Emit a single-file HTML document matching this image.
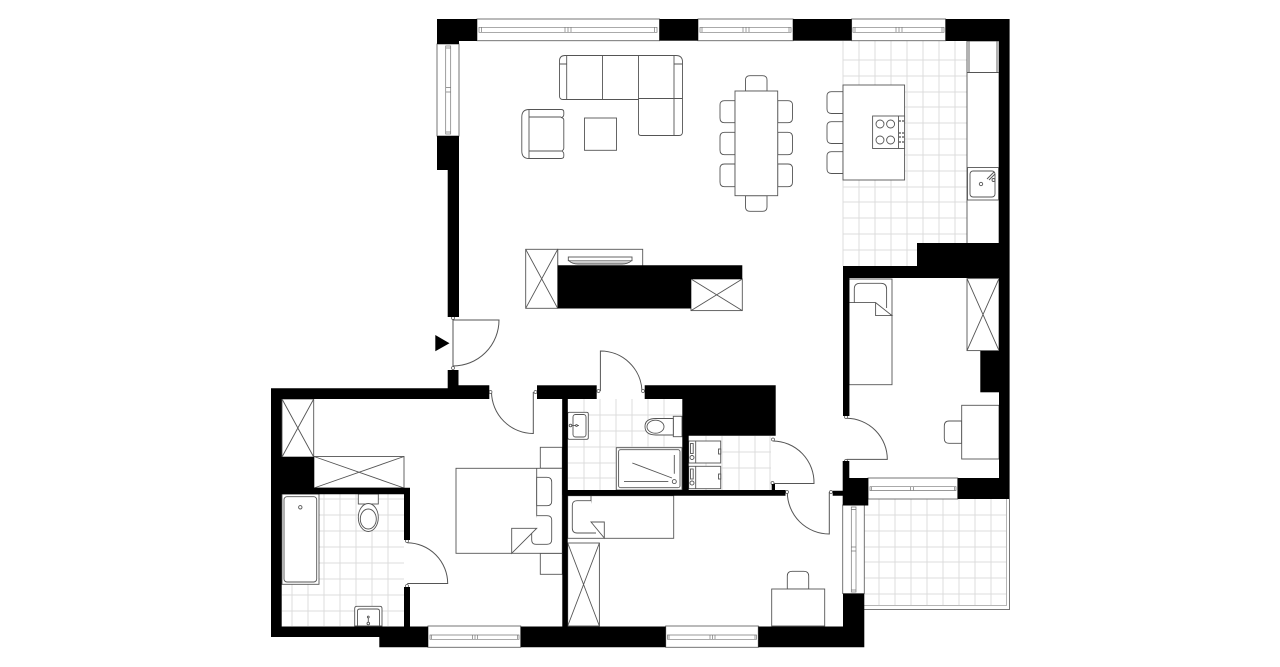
<!DOCTYPE html>
<html><head><meta charset="utf-8"><title>Floor plan</title>
<style>html,body{margin:0;padding:0;background:#fff;width:1280px;height:667px;overflow:hidden}svg{display:block;filter:blur(0.3px)}</style></head>
<body>
<svg xmlns="http://www.w3.org/2000/svg" width="1280" height="667" viewBox="0 0 1280 667">
<rect width="1280" height="667" fill="#fff"/>
<!-- tiles -->
<g fill="none" stroke="#dcdcdc" stroke-width="1">
<path d="M843 41V266M859 41V266M875 41V266M891 41V266M907 41V266M923 41V243M939 41V243M955 41V243"/>
<path d="M843 60H967M843 76H967M843 92H967M843 107H967M843 123H967M843 139H967M843 155H967M843 171H967M843 187H967M843 202H967M843 218H967M843 234H967M843 250H917"/>
<path d="M292 494V626M308 494V626M324 494V626M340 494V626M356 494V626M372 494V626M388 494V626"/>
<path d="M282 499H404M282 515H404M282 531H404M282 547H404M282 563H404M282 579H404M282 595H404M282 611H404"/>
<path d="M584 399V490M600 399V490M616 399V490M632 399V490M648 399V490M664 399V490"/>
<path d="M568 415H682M568 431H682M568 447H682M568 463H682M568 478H682"/>
<path d="M706 436V490M722 436V490M739 436V490M755 436V490M770 436V490"/>
<path d="M689 452H771M689 468H771"/>
<path d="M879 499V606M895 499V606M911 499V606M927 499V606M943 499V606M959 499V606M975 499V606M991 499V606"/>
<path d="M864 515H1006M864 531H1006M864 547H1006M864 562H1006M864 578H1006M864 594H1006"/>
</g>
<!-- balcony -->
<g fill="none" stroke="#777" stroke-width="1">
<path d="M1009.5 499V609.5H864"/>
<path d="M1006.5 499V605.5H864" stroke="#b5b5b5"/>
</g>
<!-- furniture -->
<g fill="#fff" stroke="#555" stroke-width="0.9">
<!-- sofa -->
<path d="M565 55.5H676Q682.5 55.5 682.5 62V132Q682.5 135.5 679 135.5H641Q638.5 135.5 638.5 133V99.5H563Q559.5 99.5 559.5 96V61Q559.5 55.5 565 55.5Z"/>
<path d="M566.7 55.5V99.5M602.5 55.5V99.5M638.5 55.5V99.5M674 55.5V135.5M638.5 98.5H682.5M559.5 64H566.7M674 64H682.5"/>
<!-- armchair -->
<path d="M529 109.5H561Q563.8 109.5 563.8 112V114.5Q563.8 117 561 117.5Q563.8 118 563.8 120V148Q563.8 150 561.5 151Q563.8 152 563.8 154V156Q563.8 158.5 561 158.5H529Q521.8 158.5 521.8 151V117Q521.8 109.5 529 109.5Z"/>
<path d="M529 109.5V158.5M529 117H561M529 151H561"/>
<rect x="584.5" y="118" width="32" height="32.3"/>
<!-- dining -->
<path d="M745.5 91V80Q745.5 75.7 750 75.7H762.5Q767 75.7 767 80V91Z"/>
<path d="M745.5 195.7V207Q745.5 211.3 750 211.3H762.5Q767 211.3 767 207V195.7Z"/>
<path d="M735 100.7H724.5Q720 100.7 720 105V118Q720 122.7 724.5 122.7H735Z"/>
<path d="M735 132.3H724.5Q720 132.3 720 137V150Q720 154.7 724.5 154.7H735Z"/>
<path d="M735 164H724.5Q720 164 720 168.5V182Q720 186.7 724.5 186.7H735Z"/>
<path d="M777.7 100.7H788Q792.5 100.7 792.5 105V118Q792.5 122.7 788 122.7H777.7Z"/>
<path d="M777.7 132.3H788Q792.5 132.3 792.5 137V150Q792.5 154.7 788 154.7H777.7Z"/>
<path d="M777.7 164H788Q792.5 164 792.5 168.5V182Q792.5 186.7 788 186.7H777.7Z"/>
<rect x="735" y="91" width="42.7" height="104.7"/>
<!-- island stools -->
<path d="M843 91.7H831.5Q827 91.7 827 96V109Q827 113.5 831.5 113.5H843Z"/>
<path d="M843 121.7H831.5Q827 121.7 827 126V139Q827 143.5 831.5 143.5H843Z"/>
<path d="M843 151.7H831.5Q827 151.7 827 156V169Q827 173.5 831.5 173.5H843Z"/>
<rect x="843" y="85" width="61.6" height="95"/>
<rect x="872.6" y="116" width="32" height="32.5"/>
<path d="M898.5 116V148.5"/>
<circle cx="880" cy="124" r="4"/><circle cx="890.6" cy="124" r="4"/><circle cx="880" cy="140" r="4"/><circle cx="890.6" cy="140" r="4"/>
<g stroke-width="0.6">
<circle cx="900" cy="121" r="0.7"/><circle cx="903" cy="121" r="0.7"/><circle cx="900" cy="133" r="0.7"/><circle cx="903" cy="133" r="0.7"/><circle cx="900" cy="137" r="0.7"/><circle cx="903" cy="137" r="0.7"/><circle cx="900" cy="142" r="0.7"/><circle cx="903" cy="142" r="0.7"/>
</g>
<!-- counter -->
<rect x="967" y="41" width="32" height="202.5"/>
<path d="M967 72.5H999M969 41V72M997 41V72" fill="none"/>
<rect x="967.5" y="167.5" width="31" height="32.5"/>
<rect x="970" y="171" width="25" height="26" rx="3"/>
<circle cx="981" cy="184" r="1.7"/>
<path d="M987 179L994 172M989 180L995 174" fill="none"/>
<circle cx="993.5" cy="180" r="1.5"/>
<!-- TV unit + wardrobes -->
<rect x="557.7" y="249.3" width="85" height="17"/>
<rect x="568.3" y="257" width="63.7" height="3.7"/>
<path d="M569 260.7Q572 264 578 264H622Q628 264 631.5 260.7" fill="#ccc"/>
<rect x="525.7" y="249.3" width="32" height="59"/>
<path d="M525.7 249.3L557.7 308.3M557.7 249.3L525.7 308.3"/>
<rect x="691" y="279" width="51.3" height="31.6"/>
<path d="M691 279L742.3 310.6M742.3 279L691 310.6"/>
<!-- room right -->
<rect x="849" y="279" width="43" height="105.7"/>
<path d="M849 302.6V279M854.3 302.5V289Q854.3 283.3 860 283.3H881Q886.6 283.3 886.6 289V308" fill="none"/>
<path d="M849 302.6H875.6V315.6H892L875.6 302.6" fill="none"/>
<rect x="967" y="278.6" width="32" height="72"/>
<path d="M967 278.6L999 350.6M999 278.6L967 350.6"/>
<path d="M961.7 421H949Q944.3 421 944.3 426V438.5Q944.3 443.3 949 443.3H961.7Z"/>
<rect x="961.7" y="405.3" width="37.3" height="53.7"/>
<!-- master bedroom -->
<rect x="314" y="456.5" width="90" height="31.5"/>
<path d="M314 456.5L404 488M404 456.5L314 488"/>
<rect x="282" y="399" width="31.7" height="58"/>
<path d="M282 399L313.7 457M313.7 399L282 457"/>
<rect x="540.3" y="447.3" width="22" height="21"/>
<rect x="540.3" y="553.3" width="22" height="21"/>
<rect x="456" y="468.3" width="106.3" height="85"/>
<path d="M536.7 468.3V528.3"/>
<path d="M536.7 477.3H547Q551.7 477.3 551.7 482V501Q551.7 505.7 547 505.7H536.7Z"/>
<path d="M536.7 515.7H547Q551.7 515.7 551.7 520V539.5Q551.7 544.3 547 544.3H536Q531.7 544.3 531.7 540V533"/>
<path d="M511.7 528.3H536.7L511.7 553.3Z"/>
<!-- bathroom 1 -->
<rect x="282" y="494" width="37" height="90.3"/>
<rect x="284" y="496.7" width="32.7" height="85.3" rx="3"/>
<circle cx="300.3" cy="507.3" r="1.7"/>
<rect x="358.3" y="494" width="20" height="10"/>
<ellipse cx="368.3" cy="517.5" rx="10" ry="14"/>
<ellipse cx="368.3" cy="519" rx="8" ry="10"/>
<path d="M354.7 626V608.5Q354.7 606.3 357 606.3H380Q382 606.3 382 608.5V626Z"/>
<path d="M357.5 626V611Q357.5 609 360 609H377Q379.5 609 379.5 611V626" fill="none"/>
<path d="M368.3 616V623" fill="none"/><circle cx="368.3" cy="623.5" r="1.3"/><circle cx="368.3" cy="617" r="0.9"/>
<!-- bathroom 2 -->
<rect x="567.7" y="412.3" width="20.6" height="27" rx="1.5"/>
<rect x="573" y="414.5" width="13" height="22.5" rx="2.5"/>
<path d="M570 425.5H579" fill="none"/><circle cx="570.5" cy="425.5" r="1.3"/><circle cx="576.5" cy="425.5" r="0.9"/>
<rect x="673.3" y="416.3" width="8.7" height="20.4"/>
<path d="M673.3 418.5H656Q645 418.5 645 426.5Q645 435 656 435H673.3Z"/>
<ellipse cx="655.5" cy="426.7" rx="8.5" ry="6.5" fill="none"/>
<rect x="616.3" y="447.7" width="65.7" height="42.3"/>
<rect x="618.6" y="449.7" width="61.4" height="38" rx="2"/>
<path d="M632.3 463L672 478M674.3 455V473.7M624 481.6H668.3" fill="none"/>
<circle cx="674.3" cy="481.6" r="2"/>
<!-- laundry -->
<rect x="688.7" y="441" width="32" height="22"/>
<rect x="688.7" y="466.3" width="32" height="22.4"/>
<path d="M695.7 441V463M695.7 466.3V488.7" fill="none"/>
<rect x="690.5" y="443.5" width="2.7" height="10"/><rect x="690.5" y="469" width="2.7" height="10"/>
<circle cx="692" cy="457.5" r="2"/><circle cx="692" cy="483" r="2"/>
<rect x="718.5" y="449" width="2.2" height="5"/><rect x="718.5" y="474" width="2.2" height="5"/>
<!-- study -->
<rect x="567.7" y="495.7" width="106" height="42.6"/>
<path d="M591 495.7V522" fill="none"/>
<path d="M591 500.7H577Q572.3 500.7 572.3 505.5V528Q572.3 533 577 533H596"/>
<path d="M591 522H604.3V538L591 522Z"/>
<rect x="567.7" y="543" width="31.7" height="83"/>
<path d="M567.7 543L599.4 626M599.4 543L567.7 626"/>
<path d="M787.3 589V576Q787.3 571.3 792 571.3H804Q808.7 571.3 808.7 576V589Z"/>
<rect x="771.7" y="589" width="53" height="37"/>
</g>
<!-- doors -->
<g fill="none" stroke="#555" stroke-width="1">
<path d="M453 366V320H499A46 46 0 0 1 453 366"/>
<path d="M491.5 392A42 42 0 0 0 533.3 433.5V392"/>
<path d="M600.4 391V351A41.5 41.5 0 0 1 642 391"/>
<path d="M773 441A41.5 41.5 0 0 1 814 483.5H772"/>
<path d="M787.3 492A42 42 0 0 0 829.3 534V492"/>
<path d="M846.7 418.3A41 41 0 0 1 887.3 459.4H846.7"/>
<path d="M407.3 542.7A41 41 0 0 1 447.7 583.5H407.3"/>
</g>
<g fill="#fff" stroke="#555" stroke-width="0.7">
<circle cx="453" cy="318" r="1.5"/><circle cx="453" cy="368" r="1.5"/><circle cx="490.5" cy="392" r="1.5"/><circle cx="535.5" cy="392" r="1.5"/><circle cx="598.5" cy="391" r="1.5"/><circle cx="643" cy="391" r="1.5"/><circle cx="773" cy="439.5" r="1.5"/><circle cx="772.5" cy="483" r="1.5"/><circle cx="787" cy="492" r="1.5"/><circle cx="831" cy="492" r="1.5"/><circle cx="846" cy="417" r="1.5"/><circle cx="846" cy="461" r="1.5"/><circle cx="407" cy="541" r="1.5"/><circle cx="407" cy="586" r="1.5"/>
</g>
<!-- windows -->
<g fill="#fff" stroke="#666" stroke-width="0.9">
<rect x="477" y="19" width="182.5" height="21.7"/>
<rect x="698" y="19" width="95" height="21.7"/>
<rect x="851.6" y="19" width="94" height="21.7"/>
<rect x="437" y="44" width="22" height="92"/>
<rect x="428" y="626" width="92.7" height="21.3"/>
<rect x="665.7" y="626" width="92.6" height="21.3"/>
<rect x="868" y="478" width="89.7" height="21"/>
<rect x="842.7" y="505" width="21.6" height="88.6"/>
</g>
<g fill="none" stroke="#777" stroke-width="0.7">
<path d="M479 27.3H657V32.3H479ZM481.5 27.3V32.3M654.5 27.3V32.3M565 27.3V32.3M568 27.3V32.3M571 27.3V32.3"/>
<path d="M700 27.3H791V32.3H700ZM702 27.3V32.3M789 27.3V32.3M743 27.3V32.3M746 27.3V32.3M749 27.3V32.3"/>
<path d="M853 27.3H944V32.3H853ZM855 27.3V32.3M942 27.3V32.3M896 27.3V32.3M899 27.3V32.3M902 27.3V32.3"/>
<path d="M445.7 46H450.7V134H445.7ZM445.7 48H450.7M445.7 132H450.7M445.7 87.5H450.7M445.7 92H450.7"/>
<path d="M430 635H519V639.3H430ZM431.5 635V639.3M517.5 635V639.3M472.5 635V639.3M475 635V639.3M477.5 635V639.3"/>
<path d="M667.5 635H756.5V639.3H667.5ZM669 635V639.3M755 635V639.3M710 635V639.3M712.5 635V639.3M715 635V639.3"/>
<path d="M870 486.7H956V490.5H870ZM871.5 486.7V490.5M954.5 486.7V490.5M910.5 486.7V490.5M913.5 486.7V490.5"/>
<path d="M851.3 507H856V592H851.3ZM851.3 509.5H856M851.3 590H856M851.3 547H856M851.3 551H856"/>
</g>
<!-- walls -->
<g fill="#000">
<path d="M437 19H477V41H459V44H437Z"/>
<rect x="659.5" y="19" width="38.5" height="21.7"/>
<rect x="793" y="19" width="58.6" height="21.7"/>
<path d="M945.6 19H1009.6V499H957.7V478H999V41H945.6Z"/>
<path d="M437 136H459V317H447.7V170H437Z"/>
<path d="M917 243H999V278H843V416H849.3V278H843V266H917Z"/>
<rect x="843" y="278" width="6.3" height="138"/>
<rect x="980.3" y="351" width="19" height="41.3"/>
<!-- inner walls -->
<path d="M447.7 370H458.5V385.3H489.3V399H281.7V457H314V487.8H410V540H404V494.3H281.7V626.5H404V587H410V626.5H562.3V399H567.7V490H682.3V399H644.7V385.3H775.7V435.7H688.7V490H771.7V484H775V490H785.5V495.7H567.7V626.5H843V593.6H864.3V647.3H758.3V626.5H665.7V647.3H520.7V626.5H428V647.3H379.3V637H271V388.3H447.7Z"/>
<rect x="537" y="385.3" width="59.7" height="13.7"/>
<rect x="562.3" y="399" width="5.4" height="96"/>
<path d="M842.7 461H849.3V478H868.3V505.5H842.7V495.7H832.7V490.7H842.7Z"/>
<path d="M435.3 335V351.3L449.5 343.3Z"/>
<!-- big block -->
<path d="M557.7 265.3H742.3V279H691V308.5H557.7Z"/>
</g>
</svg>
</body></html>
